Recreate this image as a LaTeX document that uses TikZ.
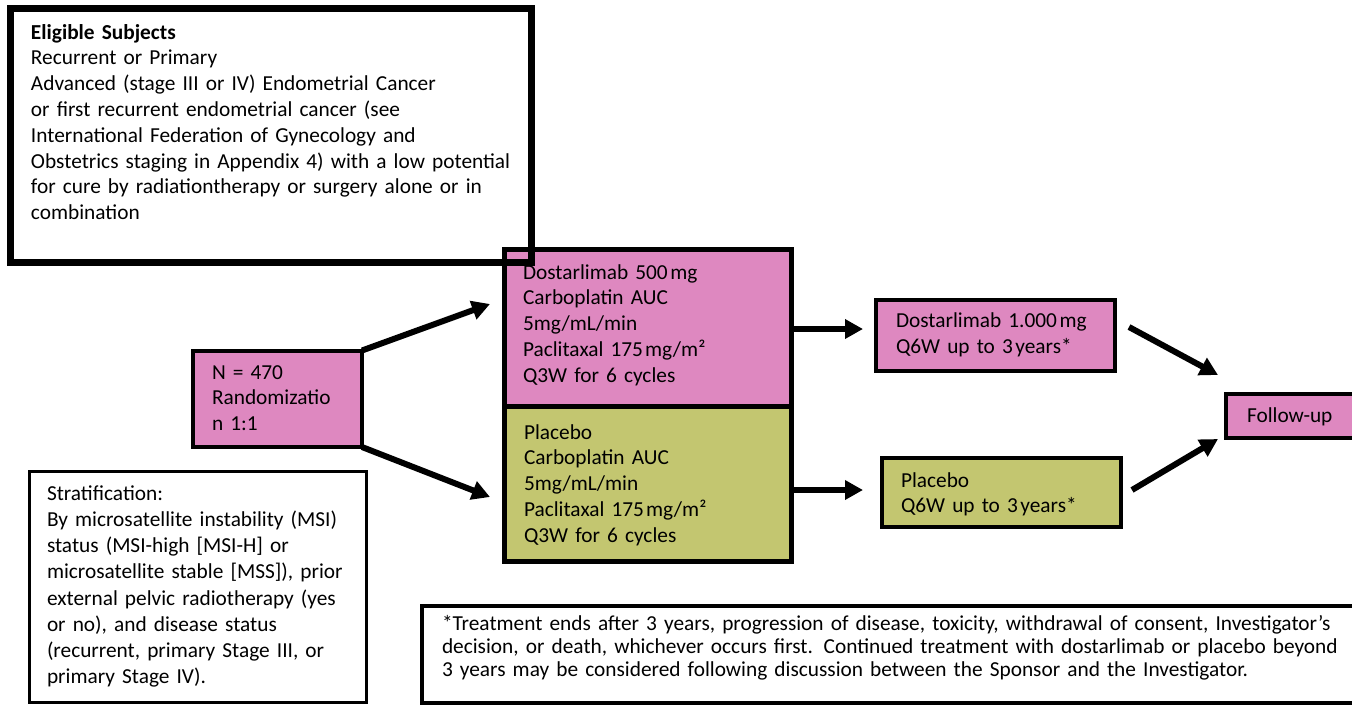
\documentclass[tikz,border=0pt]{standalone}
\usepackage{fontspec}
\setmainfont{Carlito}
\usetikzlibrary{arrows.meta,fit}
\definecolor{pinkF}{RGB}{222,136,192}
\definecolor{greenF}{RGB}{195,198,112}
\begin{document}
\begin{tikzpicture}[x=0.75pt,y=-0.75pt,
  box/.style={draw=black, inner sep=0pt, outer sep=0pt, rectangle},
  txt/.style={anchor=base west, inner sep=0pt, outer sep=0pt, align=left,
    font=\fontsize{16pt}{19.35pt}\selectfont, text width=#1},
  txt/.default=380pt,
  arr/.style={line width=4.5pt, -{Triangle[length=13.5pt,width=14pt]}},
]
\useasboundingbox (0,0) rectangle (1352,704);
\clip (0,0) rectangle (1352,704);

% treatment boxes
\node[box, fill=pinkF, line width=3.75pt, fit={(504,249) (791,406)}] (pinkT) {};
\node[box, fill=greenF, line width=3.75pt, fit={(504,406) (791,561)}] (greenB) {};
\node[txt=200pt] (pinkTxt) at (523,279) {Dostarlimab 500\hspace{0.12em}mg\\Carboplatin AUC\\5mg/mL/min\\Paclitaxal 175\hspace{0.1em}mg/m²\\Q3W for 6 cycles};
\node[txt=200pt] (greenTxt) at (524,439) {Placebo\\Carboplatin AUC\\5mg/mL/min\\Paclitaxal 175\hspace{0.1em}mg/m²\\Q3W for 6 cycles};

% eligible subjects
\node[box, line width=5.25pt, fit={(10,8.5) (531.5,262)}] (elig) {};
\node[txt=380pt] (eligTxt) at (31,39) {\textbf{Eligible Subjects}\\
Recurrent or Primary\\
Advanced (stage III or IV) Endometrial Cancer\\
or first recurrent endometrial cancer (see\\
International Federation of Gynecology and\\
Obstetrics staging in Appendix 4) with a low potential\\
for cure by radiationtherapy or surgery alone or in\\
combination};

% randomization
\node[box, fill=pinkF, line width=3pt, fit={(193,350.5) (362,447)}] (nbox) {};
\node[txt=120pt] (nTxt) at (212,379) {N = 470\\Randomizatio\\n 1:1};

% continuation boxes
\node[box, fill=pinkF, line width=3pt, fit={(875.5,299.5) (1115,371)}] (dost) {};
\node[txt=180pt] (dostTxt) at (896,327) {Dostarlimab 1.000\hspace{0.12em}mg\\[0.4pt]Q6W up to 3\hspace{0.12em}years*};
\node[box, fill=greenF, line width=3pt, fit={(882,458) (1120.5,527)}] (plac) {};
\node[txt=180pt] (placTxt) at (901,487) {Placebo\\Q6W up to 3\hspace{0.12em}years*};

% follow-up
\node[box, fill=pinkF, line width=3pt, fit={(1226,394) (1370,438)}] (follow) {};
\node[txt=80pt] (followTxt) at (1247,422) {Follow-up};

% stratification
\node[box, line width=2.25pt, fit={(29,471.5) (366,702)}] (strat) {};
\node[txt=250pt, font=\fontsize{16pt}{19.7pt}\selectfont] (stratTxt) at (47,500) {Stratification:\\
By microsatellite instability (MSI)\\
status (MSI-high [MSI-H] or\\
microsatellite stable [MSS]), prior\\
external pelvic radiotherapy (yes\\
or no), and disease status\\
(recurrent, primary Stage III, or\\
primary Stage IV).};

% footnote
\node[box, line width=3pt, fit={(422,605.5) (1370,702.5)}] (foot) {};
\node[txt=700pt, font=\fontsize{16pt}{17.25pt}\selectfont] (footTxt) at (442,630) {*Treatment ends after 3 years, progression of disease, toxicity, withdrawal of consent, Investigator’s\\
decision, or death, whichever occurs first. Continued treatment with dostarlimab or placebo beyond\\
3 years may be considered following discussion between the Sponsor and the Investigator.};

% arrow end points
\coordinate (a1e) at (490,304);
\coordinate (a2e) at (490,497);
\coordinate (a3e) at (863,329);
\coordinate (a4e) at (863,490);
\coordinate (a5s) at (1129,327);
\coordinate (a5e) at (1218,375);
\coordinate (a6s) at (1132,490);
\coordinate (a6e) at (1218,439);

\draw[arr] (nbox.north east) -- (a1e);
\draw[arr] (nbox.south east) -- (a2e);
\draw[arr] (pinkT.east |- a3e) -- (a3e);
\draw[arr] (greenB.east |- a4e) -- (a4e);
\draw[arr] (a5s) -- (a5e);
\draw[arr] (a6s) -- (a6e);
\end{tikzpicture}
\end{document}
